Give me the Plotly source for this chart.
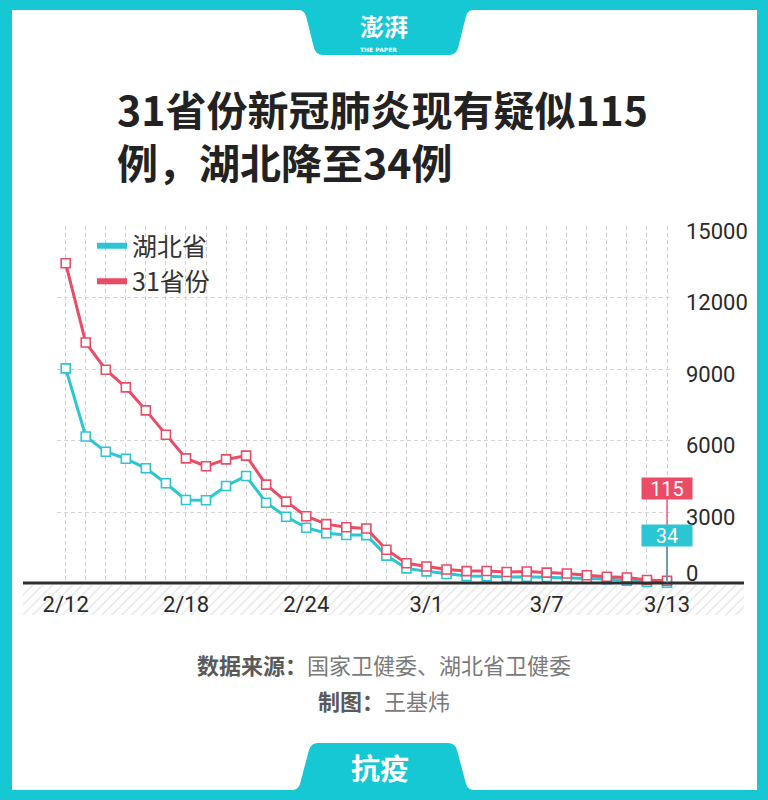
import plotly.graph_objects as go

# ---------------- data ----------------
dates = ["2/12", "2/13", "2/14", "2/15", "2/16", "2/17", "2/18", "2/19", "2/20", "2/21",
         "2/22", "2/23", "2/24", "2/25", "2/26", "2/27", "2/28", "2/29", "3/1", "3/2",
         "3/3", "3/4", "3/5", "3/6", "3/7", "3/8", "3/9", "3/10", "3/11", "3/12", "3/13"]
national = [13435, 10109, 8969, 8228, 7264, 6242, 5248, 4922, 5206, 5365,
            4148, 3434, 2824, 2491, 2358, 2308, 1418, 851, 715, 587,
            520, 522, 482, 502, 458, 421, 349, 285, 253, 147, 115]
hubei = [9028, 6169, 5531, 5237, 4833, 4204, 3504, 3490, 4091, 4511,
         3391, 2803, 2342, 2106, 2035, 2030, 1170, 635, 510, 400,
         315, 300, 275, 285, 270, 258, 215, 185, 120, 60, 34]
shown_dates = ["2/12", "2/18", "2/24", "3/1", "3/7", "3/13"]
y_ticks = [0, 3000, 6000, 9000, 12000, 15000]
series_names = ["湖北省", "31省份"]

TEAL = "#16C7D4"
LINE_TEAL = "#2BC6D4"
RED = "#EC4B65"
W, H = 768, 800
CJK = "Noto Sans CJK SC"
NUM = "Roboto, Noto Sans, sans-serif"


def px(x):
    return x / W


def py(y):
    return 1 - y / H


fig = go.Figure()

# hatched band under axis (first subplot, so the data axes render above it)
fig.add_trace(go.Scatter(
    x=[0, 1, 1, 0, 0], y=[0, 0, 1, 1, 0], xaxis="x", yaxis="y",
    mode="lines", line=dict(width=0), fill="toself",
    fillcolor="rgba(0,0,0,0)",
    fillpattern=dict(shape="/", fgcolor="#cccccc", bgcolor="white", size=7, solidity=0.2),
    hoverinfo="skip", showlegend=False))

# data lines (Hubei first, national drawn on top)
for name, vals, col in [(series_names[0], hubei, LINE_TEAL), (series_names[1], national, RED)]:
    fig.add_trace(go.Scatter(
        x=dates, y=vals, mode="lines+markers", name=name, showlegend=False,
        xaxis="x2", yaxis="y2",
        line=dict(color=col, width=3),
        marker=dict(symbol="square", size=9, color="white", line=dict(color=col, width=1.6)),
        cliponaxis=False))

# legend entries
for name, col in [(series_names[0], LINE_TEAL), (series_names[1], RED)]:
    fig.add_trace(go.Scatter(x=[None], y=[None], mode="lines", name=name,
                             xaxis="x2", yaxis="y2",
                             line=dict(color=col, width=6), showlegend=True))

x0_px, x1_px = 57, 670
first_px, last_px = 65.7, 667.0
step = (last_px - first_px) / (len(dates) - 1)
xr = [-(first_px - x0_px) / step, (len(dates) - 1) + (x1_px - last_px) / step]

fig.update_layout(
    width=W, height=H, margin=dict(l=0, r=0, t=0, b=0, pad=0, autoexpand=False),
    paper_bgcolor="white", plot_bgcolor="rgba(0,0,0,0)",
    showlegend=True,
    legend=dict(x=px(92), y=py(223), xanchor="left", yanchor="top",
                bgcolor="rgba(0,0,0,0)", font=dict(family=CJK, size=25, color="#333"),
                tracegroupgap=0, itemwidth=30),
    xaxis=dict(domain=[px(23), px(744)], range=[0, 1], visible=False, anchor="y"),
    yaxis=dict(domain=[py(615), py(585)], range=[0, 1], visible=False, anchor="x"),
    xaxis2=dict(domain=[px(x0_px), px(x1_px)], range=xr, type="category", anchor="y2",
                tickmode="array", tickvals=dates,
                ticktext=[d if d in shown_dates else "" for d in dates],
                showgrid=True, gridcolor="#cfcfcf", griddash="4px,3px", gridwidth=1,
                showline=False, zeroline=False, ticks="", ticklabelstandoff=5,
                tickfont=dict(family=NUM, size=22, color="#2a2a2a")),
    yaxis2=dict(domain=[py(583.5), py(226)], range=[0, 15000], side="right", anchor="x2",
                tickmode="array", tickvals=y_ticks,
                ticktext=["" if v == 0 else str(v) for v in y_ticks],
                showgrid=True, gridcolor="#d6d6d6", griddash="4px,3px", gridwidth=1,
                zeroline=False, showline=False, ticks="", ticklabelstandoff=15,
                ticklabelshift=5,
                tickfont=dict(family=NUM, size=22, color="#2a2a2a")),
)

shapes = []
# frame
for (a, b, c, d) in [(0, 0, W, 10), (0, 0, 12, H), (757, 0, W, H), (0, 790, W, H)]:
    shapes.append(dict(type="rect", xref="paper", yref="paper",
                       x0=px(a), x1=px(c), y0=py(d), y1=py(b),
                       fillcolor=TEAL, line=dict(width=0), layer="above"))


def mkpath(cmds):
    out = []
    for c in cmds:
        if isinstance(c, str):
            out.append(c)
        else:
            out.append(f"{px(c[0]):.5f},{py(c[1]):.5f}")
    return " ".join(out)


top_tab = mkpath(["M", (294, 9), "Q", (304, 9), (306, 16), "L", (314, 48), "Q", (316, 55), (323, 55),
                  "L", (449, 55), "Q", (456, 55), (458, 48), "L", (466, 16), "Q", (468, 9), (478, 9), "Z"])
bot_tab = mkpath(["M", (288, 791), "Q", (298, 791), (300, 784), "L", (309, 750), "Q", (311, 743), (318, 743),
                  "L", (448, 743), "Q", (455, 743), (457, 750), "L", (466, 784), "Q", (468, 791), (478, 791), "Z"])
for p in (top_tab, bot_tab):
    shapes.append(dict(type="path", xref="paper", yref="paper", path=p,
                       fillcolor=TEAL, line=dict(width=0), layer="above"))

# x axis baseline
shapes.append(dict(type="line", xref="paper", yref="paper", x0=px(23), x1=px(744),
                   y0=py(583), y1=py(583), line=dict(color="#2f2f2f", width=3), layer="above"))
fig.update_layout(shapes=shapes)


def label(x, y, text, font, xanchor="center"):
    return dict(xref="paper", yref="paper", x=px(x), y=py(y), text=text, showarrow=False,
                xanchor=xanchor, yanchor="middle", font=font)


ann = []
# logo
ann.append(label(384, 25, "澎湃", dict(family=CJK, size=24, color="white", weight="bold")))
ann.append(label(378, 49, "THE PAPER", dict(family="DejaVu Sans", size=6, color="white", weight="bold")))
# title (two lines)
ann.append(dict(label(115, 135, "31省份新冠肺炎现有疑似115<br>例，湖北降至34例",
                      dict(family=CJK, size=41, color="#222", weight="bold"), xanchor="left"),
                align="left"))
# zero label
ann.append(label(684, 573, "0", dict(family=NUM, size=22, color="#2a2a2a"), xanchor="left"))
# end labels
ann.append(dict(x=dates[-1], y=national[-1], xref="x2", yref="y2", text=str(national[-1]),
                showarrow=True, arrowhead=0, arrowwidth=1.3, arrowcolor=RED,
                ax=0, ay=-92, bgcolor=RED, width=50, height=21, borderpad=0,
                font=dict(family=NUM, size=20, color="white")))
ann.append(dict(x=dates[-1], y=hubei[-1], xref="x2", yref="y2", text=str(hubei[-1]),
                showarrow=True, arrowhead=0, arrowwidth=1.3, arrowcolor="#2aa9b5",
                ax=0, ay=-47, bgcolor=LINE_TEAL, width=50, height=21, borderpad=0,
                font=dict(family=NUM, size=20, color="white")))
# source
ann.append(label(384, 664,
                 "<b><span style='color:#5a5a5a'>数据来源：</span></b><span style='color:#7a7a7a'>国家卫健委、湖北省卫健委</span>",
                 dict(family=CJK, size=22, color="#777")))
ann.append(label(384, 700,
                 "<b><span style='color:#5a5a5a'>制图：</span></b><span style='color:#7a7a7a'>王基炜</span>",
                 dict(family=CJK, size=22, color="#777")))
# footer
ann.append(label(380, 767, "<b>抗疫</b>", dict(family=CJK, size=29, color="white")))
fig.update_layout(annotations=ann)

fig.write_html("out.html", config={"displayModeBar": False},
               post_script="document.body.style.margin='0';document.body.style.overflow='hidden';")
